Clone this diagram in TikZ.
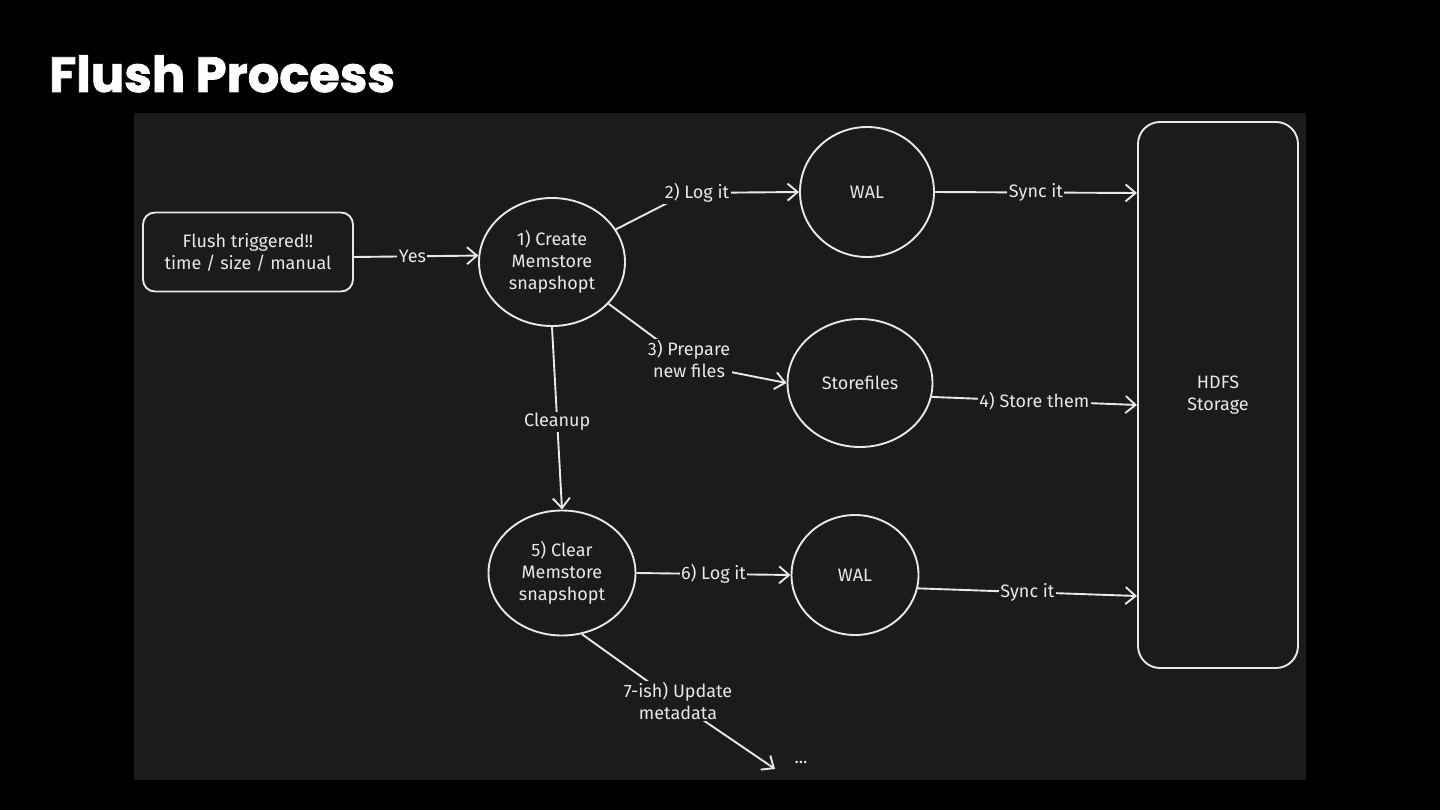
\documentclass[tikz,border=0pt]{standalone}
\usepackage{fontspec}
\setmainfont{Fira Sans}
\newfontfamily\titlefont{Poppins}[BoldFeatures={FakeBold=1.6}]
\usetikzlibrary{shapes.geometric,arrows.meta,calc}
\definecolor{panel}{RGB}{27,27,27}
\definecolor{ink}{RGB}{232,232,232}
\tikzset{
  txt/.style={font=\fontsize{18}{22}\selectfont},
  sketch/.style={draw=ink, line width=1.9pt},
  circ/.style={sketch, ellipse, inner sep=0pt, align=center, text=ink, txt},
  rbox/.style={sketch, rectangle, rounded corners=#1, align=center, text=ink, txt},
  conn/.style={draw=ink, line width=1.9pt, -{Straight Barb[length=10pt,width=17pt,line width=1.9pt]}},
  plain/.style={draw=ink, line width=1.9pt},
  lbl/.style={fill=panel, text=ink, inner sep=1.5pt, align=center, txt},
}
\begin{document}
\begin{tikzpicture}[x=1pt,y=-1pt]
\fill[black] (0,0) rectangle (1440,810);
\useasboundingbox (0,0) rectangle (1440,810);
\fill[panel] (134,113) rectangle (1306,780);
\node[anchor=base west, text=white, font=\titlefont\bfseries\fontsize{49.5}{54}\selectfont, inner sep=0pt] (title) at (49,92) {Flush Process};

\node[rbox=12pt, minimum width=210pt, minimum height=79pt] (trig) at (248,252) {Flush triggered!!\\time / size / manual};
\node[circ, minimum width=146pt, minimum height=128pt] (c1) at (552,262) {1) Create\\Memstore\\snapshopt};
\node[circ, minimum width=134pt, minimum height=130pt] (wal1) at (867,192) {WAL};
\node[circ, minimum width=145pt, minimum height=128pt] (sf) at (860,383) {Storefiles};
\node[rbox=22pt, minimum width=160pt, minimum height=546pt] (hdfs) at (1218,395) {HDFS\\Storage};
\node[circ, minimum width=147pt, minimum height=125pt] (c5) at (562,573) {5) Clear\\Memstore\\snapshopt};
\node[circ, minimum width=127pt, minimum height=120pt] (wal2) at (855,575) {WAL};
\node[text=ink, txt, inner sep=2pt] (dots) at (801,762) {...};

\coordinate (k2) at (687,193);
\coordinate (k3) at (690,364);
\coordinate (k7) at (678,703);
\coordinate (h1) at (1137,193);
\coordinate (h2) at (1137,405);
\coordinate (h3) at (1137,596);
\coordinate (d1) at (775,769);

% Flush -> Create
\draw[conn] ($(trig.east)+(0,5)$) -- (c1.175) node[lbl, pos=0.47] {Yes};
% Create -> WAL
\draw[plain] (c1) -- (k2);
\draw[conn] (k2) -- (wal1.west);
\node[lbl] at (697,193) {2) Log it};
% WAL -> HDFS
\draw[conn] (wal1.east) -- (h1) node[lbl, pos=0.5] {Sync it};
% Create -> Storefiles
\draw[plain] (c1) -- (k3);
\draw[conn] (k3) -- (sf.west);
\node[lbl] at (689,359) {3) Prepare\\new files};
% Storefiles -> HDFS
\draw[conn] (sf.-11) -- (h2) node[lbl, pos=0.5] {4) Store them};
% Create -> Clear
\draw[conn] (c1.south) -- (c5.north) node[lbl, pos=0.52] {Cleanup};
% Clear -> WAL2
\draw[conn] (c5.east) -- (wal2.west) node[lbl, pos=0.5] {6) Log it};
% WAL2 -> HDFS
\draw[conn] (wal2.-12) -- (h3) node[lbl, pos=0.5] {Sync it};
% Clear -> ...
\draw[plain] (c5.-72) -- (k7);
\draw[conn] (k7) -- (d1);
\node[lbl] at (678,701) {7-ish) Update\\metadata};
\end{tikzpicture}
\end{document}
